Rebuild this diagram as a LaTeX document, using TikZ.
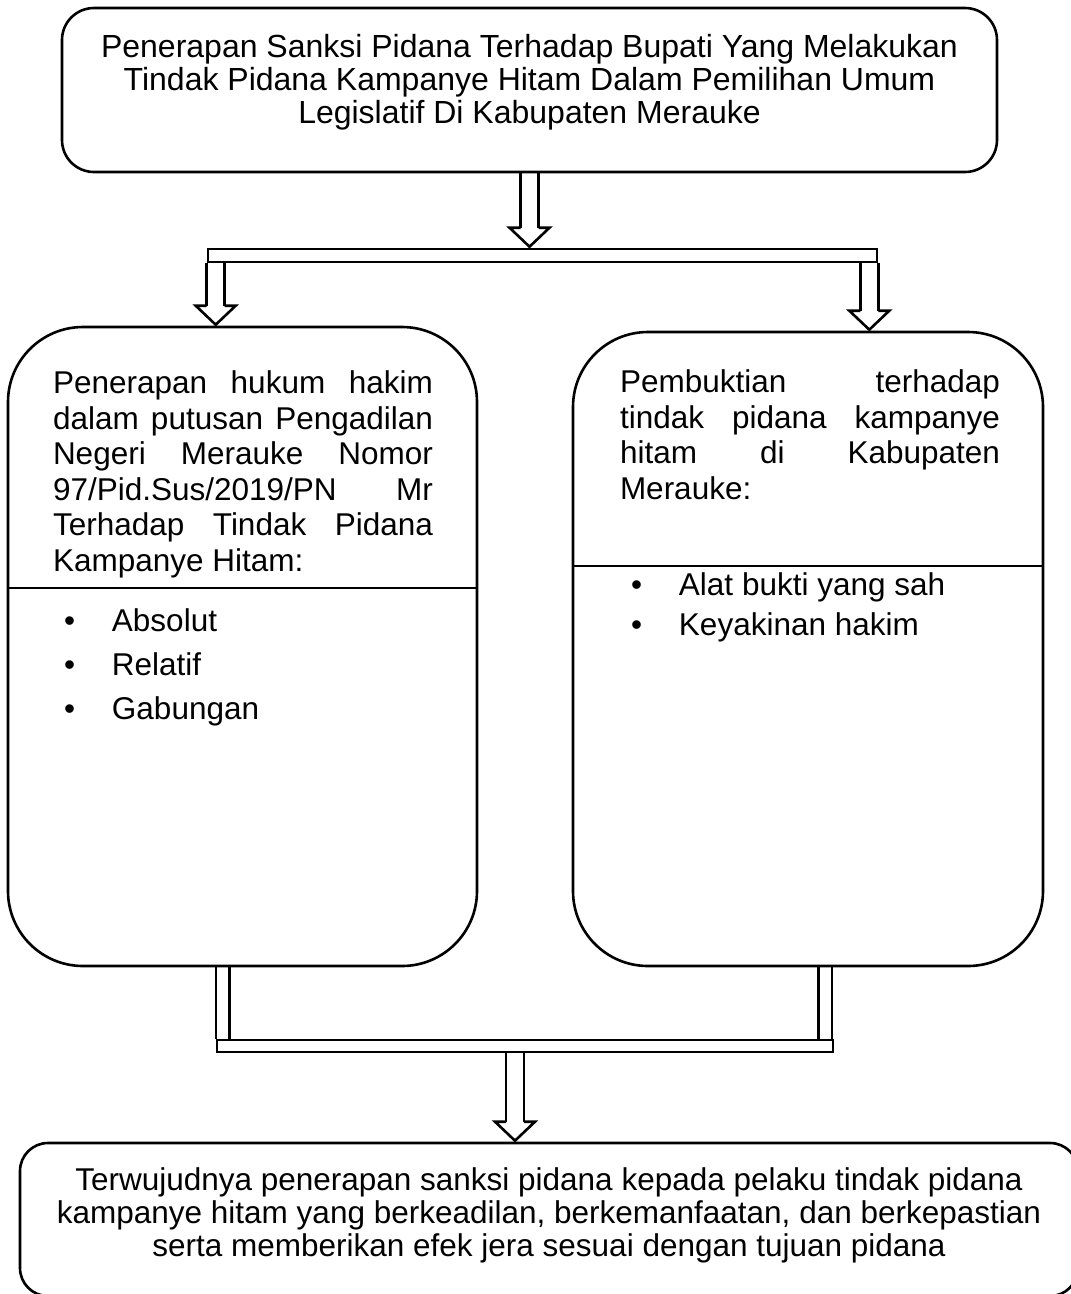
\documentclass[tikz,border=0pt]{standalone}
\usepackage{fontspec}
\setmainfont{Liberation Sans}
\usetikzlibrary{decorations.markings, positioning, backgrounds}
\tikzstyle{blockArrow} = [line width=2.6pt, double distance=15.4pt,
   decoration={markings,mark=at position 1 with
   {\draw[shorten >=0pt, line width=2.6pt, line join=miter]
     (-20pt,9pt) -- (-20pt,20pt) -- (-1pt,0pt) -- (-20pt,-20pt) -- (-20pt,-9pt);}},
   shorten >= 20pt,
   preaction = {decorate}]
\tikzstyle{stubLine} = [line width=2.6pt, double distance=10.8pt]
\newcommand{\listDot}{\makebox[59pt][l]{\hspace{11pt}\textbullet}}

\begin{document}
\begin{tikzpicture}[
  x=1pt, y=-1pt,
  line width=2.6pt,
  font=\fontsize{31.5}{35.5}\selectfont,
  box/.style={draw, rectangle, inner sep=0pt},
  txt/.style={inner sep=0pt, align=justify, text width=380pt},
  list/.style={inner sep=0pt, align=left},
  title/.style={inner sep=0pt, align=center, font=\fontsize{32}{33}\selectfont},
  ]
  \useasboundingbox (0,0) rectangle (1071,1294);
  \node[box, rounded corners=32pt, minimum width=935pt, minimum height=164pt] (top) at (529.5,90) {};
  \node[title, yshift=8pt] (toptxt) at (top.center)
    {Penerapan Sanksi Pidana Terhadap Bupati Yang Melakukan\\Tindak Pidana Kampanye Hitam Dalam Pemilihan Umum\\Legislatif Di Kabupaten Merauke};
  \node[box, minimum width=669pt, minimum height=13pt] (tbar) at (542.5,255.5) {};
  \node[box, rounded corners=75pt, minimum width=469pt, minimum height=639pt] (lbox) at (242.5,646.5) {};
  \node[box, rounded corners=75pt, minimum width=470pt, minimum height=634pt] (rbox) at (808,649) {};
  \node[box, minimum width=616pt, minimum height=12pt] (bbar) at (525,1046) {};
  \node[box, rounded corners=28pt, minimum width=1058pt, minimum height=153pt] (bot) at (549,1219.5) {};
  \node[title, font=\fontsize{31.5}{33}\selectfont, yshift=4pt] (bottxt) at (bot.center)
    {Terwujudnya penerapan sanksi pidana kepada pelaku tindak pidana\\kampanye hitam yang berkeadilan, berkemanfaatan, dan berkepastian\\serta memberikan efek jera sesuai dengan tujuan pidana};

  % left box
  \node[txt, below right=44pt and 45pt of lbox.north west] (lhead)
    {Penerapan hukum hakim\linebreak dalam putusan Pengadilan\linebreak Negeri Merauke Nomor\linebreak 97/Pid.Sus/2019/PN Mr\linebreak Terhadap Tindak Pidana\linebreak Kampanye Hitam:};
  \coordinate[below=9pt of lhead.south] (ldiv);
  \draw (ldiv -| lbox.west) -- (ldiv -| lbox.east);
  \node[list, below right=28pt and 0pt of lhead.south west] (llist)
    {\listDot Absolut\\[8.5pt]\listDot Relatif\\[8.5pt]\listDot Gabungan};

  % right box
  \node[txt, below right=38pt and 47pt of rbox.north west] (rhead)
    {Pembuktian terhadap\linebreak tindak pidana kampanye\linebreak hitam di Kabupaten\linebreak Merauke:};
  \coordinate[below=65pt of rhead.south] (rdiv);
  \draw (rdiv -| rbox.west) -- (rdiv -| rbox.east);
  \node[list, below right=70pt and 0pt of rhead.south west] (rlist)
    {\listDot Alat bukti yang sah\\[4.5pt]\listDot Keyakinan hakim};

  % connectors
  \begin{scope}[on background layer]
    \draw[blockArrow] (top.south) -- (top.south |- tbar.north);
    \coordinate (la) at ([xshift=9pt]tbar.south west);
    \coordinate (ra) at ([xshift=-9pt]tbar.south east);
    \draw[blockArrow] (la) -- (la |- lbox.north);
    \draw[blockArrow] (ra) -- (ra |- rbox.north);
    \coordinate (ls) at ([xshift=7pt]bbar.north west);
    \coordinate (rs) at ([xshift=-9pt]bbar.north east);
    \draw[stubLine] (ls |- lbox.south) -- (ls);
    \draw[stubLine] (rs |- rbox.south) -- (rs);
    \coordinate (ba) at ([xshift=-10pt]bbar.south);
    \draw[blockArrow] (ba) -- (ba |- bot.north);
  \end{scope}
\end{tikzpicture}
\end{document}
